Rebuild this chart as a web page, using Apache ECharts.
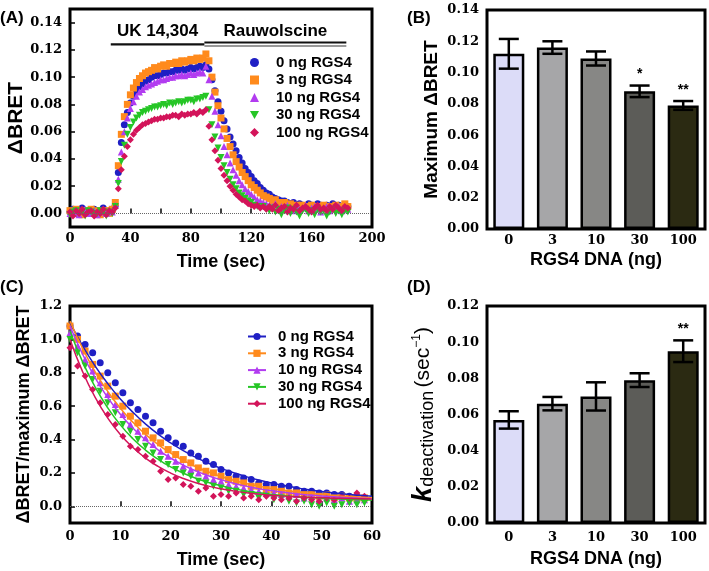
<!DOCTYPE html>
<html><head><meta charset="utf-8">
<script src="https://cdn.jsdelivr.net/npm/echarts@6/dist/echarts.min.js"></script>
<style>html,body{margin:0;padding:0;background:#fff}#c{width:709px;height:571px}</style>
</head><body><div id="c"></div>
<script>
// ---------- DATA ----------
const groups = ['0 ng RGS4', '3 ng RGS4', '10 ng RGS4', '30 ng RGS4', '100 ng RGS4'];

// Panel A: time course (sec) and ΔBRET
const timeA = [0,2,4,6,8,10,12,14,16,18,20,22,24,26,28,30,32,34,36,38,40,42,44,46,48,50,52,54,56,58,60,62,64,66,68,70,72,74,76,78,80,82,84,86,88,90,92,94,96,98,100,102,104,106,108,110,112,114,116,118,120,122,124,126,128,130,132,134,136,138,140,142,144,146,148,150,152,154,156,158,160,162,164,166,168,170,172,174,176,178,180,182,184];
const bretA0 = [0.001,0.003,0.000,0.002,0.004,0.001,0.002,0.000,0.003,0.001,0.002,0.004,0.001,0.002,0.003,
  0.006,0.030,0.052,0.065,0.074,0.081,0.086,0.090,0.093,0.095,0.097,0.098,0.100,0.101,0.101,0.102,0.103,0.103,0.104,0.104,0.105,0.105,0.106,0.105,0.106,0.107,0.106,0.107,0.108,0.107,0.109,
  0.106,0.098,0.090,0.082,0.075,0.068,0.062,0.056,0.051,0.046,0.041,0.037,0.033,0.030,0.027,0.024,0.022,0.019,0.017,0.015,
  0.014,0.012,0.011,0.010,0.009,0.009,0.008,0.007,0.008,0.006,0.007,0.006,0.005,0.007,0.006,0.005,0.007,0.006,0.004,0.006,0.005,0.007,0.005,0.006,0.004,0.006,0.005];
const bretA1 = [0.002,0.000,0.003,0.001,-0.001,0.002,0.001,0.003,0.000,0.002,-0.001,0.001,0.002,0.000,0.003,
  0.008,0.035,0.058,0.071,0.080,0.087,0.092,0.096,0.099,0.101,0.103,0.104,0.105,0.107,0.106,0.108,0.109,0.108,0.110,0.110,0.111,0.110,0.112,0.111,0.112,0.113,0.112,0.114,0.113,0.114,0.117,
  0.112,0.100,0.089,0.079,0.070,0.062,0.055,0.049,0.043,0.038,0.034,0.030,0.027,0.024,0.021,0.019,0.017,0.015,0.013,0.012,
  0.011,0.009,0.010,0.008,0.007,0.008,0.006,0.007,0.005,0.006,0.004,0.006,0.005,0.004,0.006,0.005,0.003,0.005,0.006,0.004,0.005,0.003,0.006,0.004,0.005,0.007,0.005];
const bretA2 = [0.000,0.002,0.001,-0.001,0.002,0.003,0.000,0.001,0.002,-0.001,0.001,0.003,0.000,0.002,0.001,
  0.006,0.025,0.045,0.060,0.070,0.077,0.082,0.086,0.089,0.091,0.093,0.094,0.095,0.096,0.097,0.098,0.098,0.099,0.100,0.100,0.101,0.101,0.102,0.101,0.102,0.103,0.102,0.103,0.104,0.103,0.108,
  0.098,0.086,0.075,0.065,0.057,0.049,0.043,0.037,0.032,0.028,0.024,0.021,0.018,0.016,0.014,0.012,0.010,0.009,0.008,0.007,
  0.006,0.005,0.007,0.004,0.005,0.003,0.006,0.004,0.002,0.005,0.003,0.004,0.006,0.002,0.004,0.005,0.003,0.001,0.004,0.005,0.002,0.004,0.003,0.005,0.002,0.004,0.003];
const bretA3 = [-0.001,0.001,0.002,0.000,0.001,-0.002,0.002,0.001,-0.001,0.000,0.002,0.001,-0.002,0.001,0.000,
  0.005,0.022,0.038,0.050,0.058,0.063,0.067,0.070,0.072,0.074,0.075,0.076,0.077,0.078,0.078,0.079,0.080,0.079,0.081,0.080,0.081,0.082,0.081,0.082,0.083,0.083,0.082,0.084,0.084,0.085,0.086,
  0.076,0.065,0.056,0.048,0.041,0.035,0.030,0.025,0.021,0.018,0.015,0.013,0.011,0.009,0.008,0.006,0.005,0.004,0.005,0.003,
  0.002,0.004,0.001,0.003,-0.001,0.002,0.004,0.000,0.003,0.001,-0.002,0.002,0.003,0.000,0.002,-0.001,0.003,0.001,0.002,-0.002,0.001,0.003,0.000,0.002,-0.001,0.002,0.001];
const bretA4 = [0.001,-0.002,0.002,0.000,0.003,-0.001,0.001,0.002,-0.002,0.001,0.000,0.003,-0.001,0.002,0.001,
  0.004,0.018,0.032,0.042,0.049,0.054,0.058,0.061,0.063,0.065,0.066,0.067,0.068,0.069,0.069,0.070,0.070,0.071,0.071,0.072,0.072,0.071,0.073,0.072,0.073,0.073,0.074,0.073,0.075,0.074,0.076,
  0.064,0.054,0.046,0.039,0.033,0.028,0.024,0.020,0.017,0.014,0.012,0.010,0.009,0.007,0.006,0.005,0.006,0.004,0.005,0.003,
  0.005,0.003,0.006,0.002,0.004,0.005,0.001,0.004,0.003,0.006,0.002,0.004,0.005,0.003,0.001,0.004,0.006,0.003,0.004,0.002,0.005,0.003,0.006,0.004,0.002,0.005,0.004];
const drugNames = ['UK 14,304', 'Rauwolscine'];
const drugStart = [27, 89];
const drugEnd = [89, 183];

// Panel C: normalised deactivation
const timeC = [0,1.5,3,4.5,6,7.5,9,10.5,12,13.5,15,16.5,18,19.5,21,22.5,24,25.5,27,28.5,30,31.5,33,34.5,36,37.5,39,40.5,42,43.5,45,46.5,48,49.5,51,52.5,54,55.5,57,58.5];
const normC0 = [1.08,1.02,0.97,0.92,0.86,0.80,0.74,0.68,0.62,0.58,0.54,0.50,0.45,0.41,0.38,0.36,0.32,0.30,0.27,0.25,0.22,0.20,0.18,0.17,0.16,0.14,0.13,0.13,0.12,0.12,0.10,0.09,0.09,0.08,0.08,0.07,0.07,0.06,0.06,0.05];
const normC1 = [1.08,1.00,0.93,0.85,0.78,0.72,0.66,0.60,0.54,0.50,0.45,0.41,0.38,0.34,0.31,0.28,0.26,0.23,0.21,0.20,0.18,0.16,0.15,0.14,0.12,0.12,0.10,0.10,0.09,0.08,0.08,0.07,0.07,0.06,0.07,0.05,0.06,0.05,0.05,0.05];
const normC2 = [1.04,0.96,0.88,0.81,0.74,0.67,0.61,0.55,0.49,0.45,0.41,0.37,0.33,0.30,0.27,0.24,0.22,0.20,0.18,0.16,0.15,0.13,0.12,0.11,0.10,0.09,0.08,0.08,0.07,0.06,0.07,0.05,0.06,0.04,0.05,0.04,0.05,0.03,0.04,0.04];
const normC3 = [1.00,0.92,0.84,0.76,0.69,0.62,0.56,0.49,0.45,0.40,0.36,0.32,0.28,0.25,0.22,0.20,0.18,0.15,0.14,0.12,0.11,0.09,0.09,0.07,0.07,0.05,0.06,0.04,0.05,0.03,0.02,0.03,0.01,0.00,0.02,0.00,0.01,0.02,0.01,0.02];
const normC4 = [0.95,0.84,0.78,0.70,0.62,0.55,0.49,0.42,0.36,0.34,0.30,0.27,0.21,0.16,0.17,0.13,0.12,0.09,0.11,0.06,0.07,0.06,0.08,0.05,0.06,0.04,0.06,0.05,0.04,0.05,0.03,0.05,0.04,0.03,0.05,0.04,0.06,0.05,0.08,0.06];
const fitTimeC = [0,2.5,5,7.5,10,12.5,15,17.5,20,22.5,25,27.5,30,32.5,35,37.5,40,42.5,45,47.5,50,52.5,55,57.5,60];
const fitC0 = [1.10,0.961,0.840,0.735,0.643,0.563,0.493,0.432,0.380,0.333,0.293,0.258,0.227,0.201,0.178,0.157,0.140,0.124,0.111,0.099,0.089,0.080,0.072,0.066,0.060];
const fitC1 = [1.11,0.946,0.806,0.688,0.588,0.503,0.431,0.370,0.318,0.275,0.237,0.206,0.179,0.156,0.137,0.121,0.107,0.095,0.085,0.077,0.070,0.064,0.059,0.054,0.051];
const fitC2 = [1.08,0.911,0.770,0.651,0.551,0.468,0.397,0.338,0.289,0.247,0.212,0.183,0.159,0.138,0.121,0.106,0.094,0.084,0.075,0.068,0.062,0.057,0.052,0.049,0.046];
const fitC3 = [1.05,0.865,0.714,0.590,0.488,0.405,0.337,0.282,0.236,0.199,0.168,0.143,0.123,0.106,0.092,0.081,0.072,0.064,0.058,0.053,0.049,0.045,0.043,0.040,0.038];
const fitC4 = [1.00,0.807,0.652,0.529,0.430,0.352,0.289,0.239,0.199,0.167,0.141,0.121,0.105,0.092,0.081,0.073,0.066,0.061,0.057,0.053,0.051,0.049,0.047,0.045,0.044];

// Panels B and D
const dnaCats = ['0', '3', '10', '30', '100'];
const maxBret = [0.112, 0.116, 0.109, 0.088, 0.079];
const maxBretSem = [0.0095, 0.004, 0.0045, 0.0037, 0.0028];
const maxBretSig = ['', '', '', '*', '**'];
const kDeact = [0.057, 0.066, 0.070, 0.079, 0.095];
const kDeactSem = [0.0048, 0.0037, 0.0078, 0.0038, 0.006];
const kDeactSig = ['', '', '', '', '**'];

// ---------- STYLE ----------
const SANS = '"Liberation Sans", Arial, sans-serif';
const SERIF = '"DejaVu Serif", serif';
const colors = ['#1f1fc4', '#ff8a1c', '#b23cf0', '#26c626', '#d3145a'];
const symbols = ['circle', 'rect', 'triangle', 'path://M0,0L10,0L5,9Z', 'diamond'];
const barColors = ['#dcdcf8', '#a6a6a8', '#878785', '#5c5c58', '#2b2a12'];

const chart = echarts.init(document.getElementById('c'), null, {renderer: 'canvas'});

const tickLbl = {fontFamily: SERIF, fontWeight: 'bold', fontSize: 13, color: '#000'};
const titleTxt = (size) => ({fontFamily: SANS, fontWeight: 'bold', fontSize: size, color: '#000'});
const tickStyle = {inside: true, length: 5, lineStyle: {color: '#000', width: 1.5}};
const range = (a, b, s) => { const r = []; for (let v = a; v <= b + 1e-9; v += s) r.push(+v.toFixed(4)); return r; };

const gridBox = {show: true, borderColor: '#000', borderWidth: 3, backgroundColor: 'transparent'};
const grids = [
  Object.assign({left: 70, top: 9, width: 302, height: 218}, gridBox),
  Object.assign({left: 487, top: 10, width: 218, height: 219}, gridBox),
  Object.assign({left: 70, top: 306, width: 302, height: 217}, gridBox),
  Object.assign({left: 487, top: 306, width: 218, height: 217}, gridBox)
];

const xAxes = [
  {gridIndex: 0, type: 'value', min: 0, max: 200, interval: 20,
   axisLine: {show: false}, splitLine: {show: false},
   axisTick: Object.assign({customValues: range(0, 200, 20)}, tickStyle),
   axisLabel: Object.assign({customValues: range(0, 200, 40), margin: 5}, tickLbl),
   name: 'Time (sec)', nameLocation: 'middle', nameGap: 26, nameTextStyle: titleTxt(18)},
  {gridIndex: 1, type: 'category', data: dnaCats,
   axisLine: {show: false},
   axisTick: Object.assign({alignWithLabel: true}, tickStyle),
   axisLabel: Object.assign({margin: 5}, tickLbl),
   name: 'RGS4 DNA (ng)', nameLocation: 'middle', nameGap: 22, nameTextStyle: titleTxt(18)},
  {gridIndex: 2, type: 'value', min: 0, max: 60, interval: 10,
   axisLine: {show: false}, splitLine: {show: false},
   axisTick: tickStyle,
   axisLabel: Object.assign({margin: 7}, tickLbl),
   name: 'Time (sec)', nameLocation: 'middle', nameGap: 28, nameTextStyle: titleTxt(18)},
  {gridIndex: 3, type: 'category', data: dnaCats,
   axisLine: {show: false},
   axisTick: Object.assign({alignWithLabel: true}, tickStyle),
   axisLabel: Object.assign({margin: 8}, tickLbl),
   name: 'RGS4 DNA (ng)', nameLocation: 'middle', nameGap: 27, nameTextStyle: titleTxt(18)}
];

const yAxes = [
  {gridIndex: 0, type: 'value', min: -0.01, max: 0.15,
   axisLine: {show: false}, splitLine: {show: false},
   axisTick: Object.assign({customValues: range(0, 0.14, 0.02)}, tickStyle),
   axisLabel: Object.assign({customValues: range(0, 0.14, 0.02), margin: 8, formatter: v => v.toFixed(2)}, tickLbl),
   name: 'ΔBRET', nameLocation: 'middle', nameGap: 43, nameTextStyle: titleTxt(21)},
  {gridIndex: 1, type: 'value', min: 0, max: 0.14, interval: 0.02,
   axisLine: {show: false}, splitLine: {show: false},
   axisTick: tickStyle,
   axisLabel: Object.assign({margin: 8, formatter: v => v.toFixed(2)}, tickLbl),
   name: 'Maximum ΔBRET', nameLocation: 'middle', nameGap: 46, nameTextStyle: titleTxt(19)},
  {gridIndex: 2, type: 'value', min: -0.1, max: 1.2,
   axisLine: {show: false}, splitLine: {show: false},
   axisTick: Object.assign({customValues: range(0, 1.2, 0.2)}, tickStyle),
   axisLabel: Object.assign({customValues: range(0, 1.2, 0.2), margin: 8, formatter: v => v.toFixed(1)}, tickLbl),
   name: 'ΔBRET/maximum ΔBRET', nameLocation: 'middle', nameGap: 37, nameTextStyle: titleTxt(18)},
  {gridIndex: 3, type: 'value', min: 0, max: 0.12, interval: 0.02,
   axisLine: {show: false}, splitLine: {show: false},
   axisTick: tickStyle,
   axisLabel: Object.assign({margin: 8, formatter: v => v.toFixed(2)}, tickLbl),
   name: '{k|k}{sub|deactivation} {p|(sec}{sup|−1}{p|)}', nameLocation: 'middle', nameGap: 50,
   nameTextStyle: {color: '#000', rich: {
     k: {fontFamily: SANS, fontStyle: 'italic', fontWeight: 'bold', fontSize: 27, color: '#000'},
     sub: {fontFamily: SANS, fontSize: 18, color: '#000', padding: [9, 0, 0, 0]},
     p: {fontFamily: SANS, fontSize: 21, color: '#000'},
     sup: {fontFamily: SANS, fontSize: 12, color: '#000', padding: [0, 0, 14, 0]}
   }}}
];

const bretA = [bretA0, bretA1, bretA2, bretA3, bretA4];
const normC = [normC0, normC1, normC2, normC3, normC4];
const fitC = [fitC0, fitC1, fitC2, fitC3, fitC4];

const series = [];
// Panel A scatter
groups.forEach((g, i) => {
  const s = {
    name: g, type: 'scatter', xAxisIndex: 0, yAxisIndex: 0,
    symbol: symbols[i], symbolSize: 7,
    itemStyle: {color: colors[i], opacity: 1},
    data: timeA.map((t, k) => [t, bretA[i][k]]),
    silent: true
  };
  if (i === 0) s.markLine = {silent: true, symbol: 'none', label: {show: false},
    lineStyle: {type: 'dotted', color: '#666', width: 1}, data: [{yAxis: 0}]};
  series.push(s);
});
// Panel A drug application bars
series.push({
  type: 'custom', xAxisIndex: 0, yAxisIndex: 0, silent: true, z: 5,
  data: drugNames.map((n, i) => [drugStart[i], drugEnd[i], i]),
  renderItem: (params, api) => {
    const i = api.value(2);
    const a = api.coord([api.value(0), 0.124]);
    const b = api.coord([api.value(1), 0.124]);
    const mid = api.coord([(api.value(0) + api.value(1)) / 2, 0.1335]);
    const ch = [];
    if (i === 0) {
      ch.push({type: 'line', shape: {x1: a[0], y1: a[1], x2: b[0], y2: b[1]}, style: {stroke: '#111', lineWidth: 2.2}});
    } else {
      ch.push({type: 'line', shape: {x1: a[0], y1: a[1] - 2, x2: b[0], y2: b[1] - 2}, style: {stroke: '#111', lineWidth: 2}});
      ch.push({type: 'line', shape: {x1: a[0], y1: a[1] + 1.5, x2: b[0], y2: b[1] + 1.5}, style: {stroke: '#777', lineWidth: 1.5}});
    }
    ch.push({type: 'text', x: mid[0], y: mid[1], style: {text: drugNames[i], fill: '#000',
      font: 'bold 17px ' + SANS, align: 'center', verticalAlign: 'middle'}});
    return {type: 'group', children: ch};
  }
});
// Panel C fit lines (first, for legend icons)
groups.forEach((g, i) => {
  const s = {
    name: 'C:' + g, type: 'line', xAxisIndex: 2, yAxisIndex: 2, z: 3,
    symbol: symbols[i], symbolSize: 7, showSymbol: false, smooth: true,
    lineStyle: {color: colors[i], width: 1.5}, itemStyle: {color: colors[i]},
    data: fitTimeC.map((t, k) => [t, fitC[i][k]]), silent: true
  };
  if (i === 0) s.markLine = {silent: true, symbol: 'none', label: {show: false},
    lineStyle: {type: 'dotted', color: '#666', width: 1}, data: [{yAxis: 0}]};
  series.push(s);
});
// Panel C scatter points
groups.forEach((g, i) => {
  series.push({
    name: 'C:' + g, type: 'scatter', xAxisIndex: 2, yAxisIndex: 2, z: 2,
    symbol: symbols[i], symbolSize: 7, itemStyle: {color: colors[i], opacity: 1},
    data: timeC.map((t, k) => [t, normC[i][k]]), silent: true
  });
});

function barSeries(xi, vals) {
  return {type: 'bar', xAxisIndex: xi, yAxisIndex: xi, barWidth: 31, silent: true,
    data: vals.map((v, i) => ({value: v, itemStyle: {color: barColors[i]}})),
    itemStyle: {borderColor: '#000', borderWidth: 2.5}};
}
function errSeries(xi, vals, sems, sig) {
  return {type: 'custom', xAxisIndex: xi, yAxisIndex: xi, silent: true, z: 4,
    data: vals.map((v, i) => [i, v - sems[i], v + sems[i]]),
    renderItem: (params, api) => {
      const i = api.value(0);
      const lo = api.coord([i, api.value(1)]);
      const hi = api.coord([i, api.value(2)]);
      const w = 10;
      const st = {stroke: '#000', lineWidth: 2.5};
      const ch = [
        {type: 'line', shape: {x1: lo[0], y1: lo[1], x2: hi[0], y2: hi[1]}, style: st},
        {type: 'line', shape: {x1: hi[0] - w, y1: hi[1], x2: hi[0] + w, y2: hi[1]}, style: st},
        {type: 'line', shape: {x1: lo[0] - w, y1: lo[1], x2: lo[0] + w, y2: lo[1]}, style: st}
      ];
      if (sig[i]) ch.push({type: 'text', x: hi[0], y: hi[1] - 4, style: {text: sig[i], fill: '#000',
        font: 'bold 14px ' + SANS, align: 'center', verticalAlign: 'bottom'}});
      return {type: 'group', children: ch};
    }};
}
series.push(barSeries(1, maxBret), errSeries(1, maxBret, maxBretSem, maxBretSig));
series.push(barSeries(3, kDeact), errSeries(3, kDeact, kDeactSem, kDeactSig));

const legendText = {fontFamily: SANS, fontWeight: 'bold', fontSize: 15, color: '#000', lineHeight: 15};
const option = {
  animation: false,
  backgroundColor: '#fff',
  grid: grids, xAxis: xAxes, yAxis: yAxes,
  legend: [
    {data: groups, orient: 'vertical', left: 250, top: 55, padding: 0, itemWidth: 9, itemHeight: 9, itemGap: 2.5,
     selectedMode: false, textStyle: Object.assign({padding: [0, 0, 0, 12]}, legendText)},
    {data: groups.map(g => 'C:' + g), orient: 'vertical', left: 247, top: 329, padding: 0, itemWidth: 18, itemHeight: 9, itemGap: 1.8,
     selectedMode: false, formatter: n => n.replace(/^C:/, ''), textStyle: Object.assign({padding: [0, 0, 0, 7]}, legendText)}
  ],
  graphic: [
    {type: 'text', left: 0, top: 10, style: {text: '(A)', font: 'bold 17px ' + SANS, fill: '#000'}},
    {type: 'text', left: 407, top: 10, style: {text: '(B)', font: 'bold 17px ' + SANS, fill: '#000'}},
    {type: 'text', left: 0, top: 279, style: {text: '(C)', font: 'bold 17px ' + SANS, fill: '#000'}},
    {type: 'text', left: 407, top: 279, style: {text: '(D)', font: 'bold 17px ' + SANS, fill: '#000'}}
  ],
  series: series
};
chart.setOption(option);
</script>
</body></html>
